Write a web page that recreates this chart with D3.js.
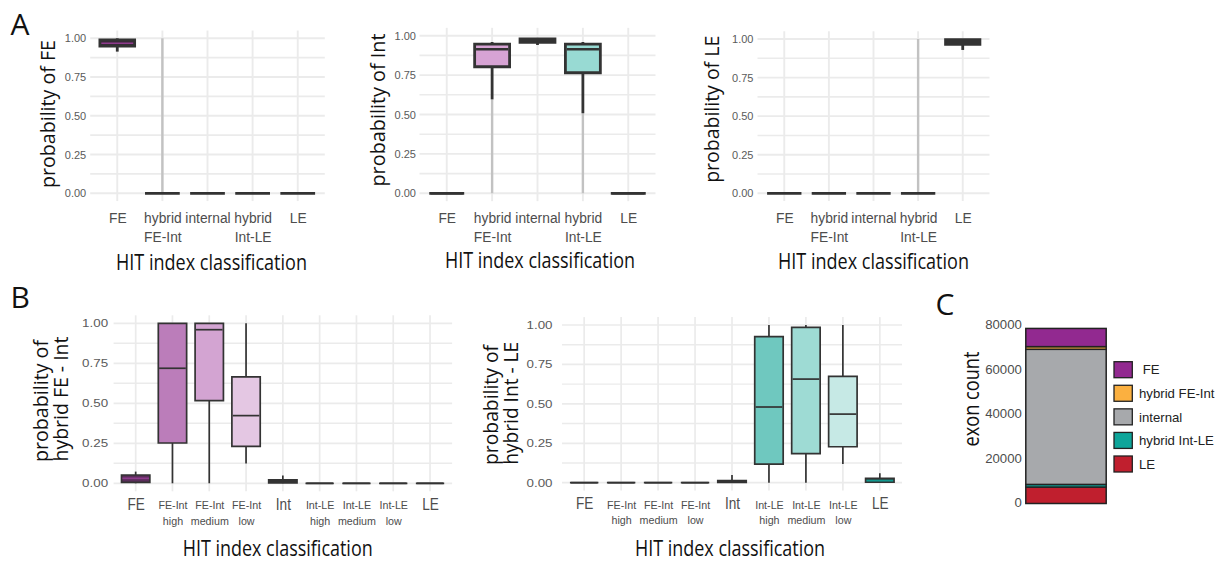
<!DOCTYPE html>
<html>
<head>
<meta charset="utf-8">
<script src="https://cdn.jsdelivr.net/npm/d3@7"></script>
<style>
  body { margin: 0; background: #fff; }
  svg { display: block; }
</style>
</head>
<body>
<svg id="fig" width="1217" height="561"></svg>
<script>
// ---------------- data ----------------
// HIT index classes used in panel A
const classesA = ["FE", "hybrid FE-Int", "internal", "hybrid Int-LE", "LE"];
const tickLinesA = [["FE"], ["hybrid", "FE-Int"], ["internal"], ["hybrid", "Int-LE"], ["LE"]];

// box summaries per class: [lower whisker, Q1, median, Q3, upper whisker]
const probFE = [
  [0.914, 0.95, 0.968, 0.99, 1.0],
  [0, 0, 0, 0, 0],
  [0, 0, 0, 0, 0],
  [0, 0, 0, 0, 0],
  [0, 0, 0, 0, 0]
];
// range covered by the outlier points of each class ([min, max] or null)
const outliersFE = [null, [0, 1], null, null, null];

const probInt = [
  [0, 0, 0, 0, 0],
  [0.596, 0.803, 0.914, 0.947, 0.96],
  [0.941, 0.958, 0.97, 0.979, 0.982],
  [0.508, 0.765, 0.914, 0.947, 0.96],
  [0, 0, 0, 0, 0]
];
const outliersInt = [null, [0, 0.596], null, [0, 0.508], null];

const probLE = [
  [0, 0, 0, 0, 0],
  [0, 0, 0, 0, 0],
  [0, 0, 0, 0, 0],
  [0, 0, 0, 0, 0],
  [0.929, 0.966, 0.98, 0.995, 1.0]
];
const outliersLE = [null, null, null, [0, 1], null];

// finer classes used in panel B
const classesB = ["FE", "FE-Int high", "FE-Int medium", "FE-Int low", "Int",
                  "Int-LE high", "Int-LE medium", "Int-LE low", "LE"];
const tickLinesB = [["FE"], ["FE-Int", "high"], ["FE-Int", "medium"], ["FE-Int", "low"], ["Int"],
                    ["Int-LE", "high"], ["Int-LE", "medium"], ["Int-LE", "low"], ["LE"]];

const probHybridFEInt = [
  [0, 0.006, 0.031, 0.052, 0.073],
  [0, 0.252, 0.719, 1.0, 1.0],
  [0, 0.517, 0.96, 1.0, 1.0],
  [0.123, 0.231, 0.423, 0.665, 1.0],
  [0, 0.002, 0.01, 0.021, 0.048],
  [0, 0, 0, 0, 0],
  [0, 0, 0, 0, 0],
  [0, 0, 0, 0, 0],
  [0, 0, 0, 0, 0]
];

const probHybridIntLE = [
  [0, 0, 0, 0, 0],
  [0, 0, 0, 0, 0],
  [0, 0, 0, 0, 0],
  [0, 0, 0, 0, 0],
  [0, 0.002, 0.008, 0.013, 0.049],
  [0, 0.118, 0.48, 0.926, 1.0],
  [0, 0.184, 0.657, 0.985, 1.0],
  [0.118, 0.228, 0.435, 0.674, 1.0],
  [0, 0.003, 0.013, 0.028, 0.06]
];

const probTicks = [0, 0.25, 0.5, 0.75, 1];
const probMinorTicks = [0.125, 0.375, 0.625, 0.875];

// panel C: exon counts per class (stacked bottom to top)
const exonClasses = ["LE", "hybrid Int-LE", "internal", "hybrid FE-Int", "FE"];
const exonCounts = [7400, 1200, 60900, 1200, 8200];
const legendOrder = ["FE", "hybrid FE-Int", "internal", "hybrid Int-LE", "LE"];
const legendLabels = [" FE", "hybrid FE-Int", "internal", "hybrid Int-LE", "LE"];
const countTicks = [0, 20000, 40000, 60000, 80000];

// ---------------- styles ----------------
const classColor = {
  "FE": "#922990",
  "hybrid FE-Int": "#fbb040",
  "internal": "#a7a9ac",
  "hybrid Int-LE": "#0ea59a",
  "LE": "#c01f2e"
};
const INK = "#333333";
const GRID = "#ebebeb";
const TICK = "#4d4d4d";
const SANS = "'Liberation Sans', Arial, sans-serif";
const TITLE = "'Open Sans', 'Noto Sans', sans-serif";

const svg = d3.select("#fig");

// squeeze a text node horizontally to mimic a condensed face
function condense(sel, ratio) {
  sel.each(function () {
    const w = this.getComputedTextLength();
    d3.select(this).attr("textLength", w * ratio).attr("lengthAdjust", "spacingAndGlyphs");
  });
}

// ---------------- box-plot panel ----------------
function boxPanel(cfg) {
  const g = svg.append("g");
  const x = d3.scalePoint().domain(cfg.classes).range([cfg.left, cfg.right]).padding(0.6);
  const y = d3.scaleLinear().domain([0, 1]).range([cfg.y0, cfg.y1]);
  const top = y(1.05), bottom = y(-0.05);
  const bw = x.step() * cfg.boxWidth;

  // grid
  g.selectAll("line.minor").data(probMinorTicks).join("line")
    .attr("x1", cfg.left).attr("x2", cfg.right)
    .attr("y1", d => y(d)).attr("y2", d => y(d))
    .attr("stroke", GRID).attr("stroke-width", cfg.gridW * 0.85);
  g.selectAll("line.major").data(probTicks).join("line")
    .attr("x1", cfg.left).attr("x2", cfg.right)
    .attr("y1", d => y(d)).attr("y2", d => y(d))
    .attr("stroke", GRID).attr("stroke-width", cfg.gridW);
  g.selectAll("line.vgrid").data(cfg.classes).join("line")
    .attr("x1", d => x(d)).attr("x2", d => x(d))
    .attr("y1", top).attr("y2", bottom)
    .attr("stroke", GRID).attr("stroke-width", cfg.gridW);

  // outlier streaks (densely stacked points)
  const outs = cfg.classes.map((c, i) => ({ c, r: cfg.outliers ? cfg.outliers[i] : null })).filter(d => d.r);
  g.selectAll("line.out").data(outs).join("line")
    .attr("x1", d => x(d.c)).attr("x2", d => x(d.c))
    .attr("y1", d => y(d.r[0])).attr("y2", d => y(d.r[1]))
    .attr("stroke", "#c2c2c2").attr("stroke-width", cfg.outW);

  const rows = cfg.classes.map((c, i) => ({ c, i, s: cfg.stats[i] }));

  // whiskers
  g.selectAll("line.wlo").data(rows).join("line")
    .attr("x1", d => x(d.c)).attr("x2", d => x(d.c))
    .attr("y1", d => y(d.s[0])).attr("y2", d => y(d.s[1]))
    .attr("stroke", INK).attr("stroke-width", cfg.strokeW);
  g.selectAll("line.whi").data(rows).join("line")
    .attr("x1", d => x(d.c)).attr("x2", d => x(d.c))
    .attr("y1", d => y(d.s[3])).attr("y2", d => y(d.s[4]))
    .attr("stroke", INK).attr("stroke-width", cfg.strokeW);

  // boxes (paths so that zero-height boxes still show their outline)
  g.selectAll("path.box").data(rows).join("path")
    .attr("d", d => {
      const x0 = x(d.c) - bw / 2, x1 = x(d.c) + bw / 2;
      return `M${x0},${y(d.s[3])}H${x1}V${y(d.s[1])}H${x0}Z`;
    })
    .attr("fill", d => cfg.fills[d.i])
    .attr("stroke", INK).attr("stroke-width", cfg.strokeW)
    .attr("stroke-linejoin", "miter");

  // medians
  g.selectAll("line.med").data(rows).join("line")
    .attr("x1", d => x(d.c) - bw / 2 + cfg.strokeW / 2).attr("x2", d => x(d.c) + bw / 2 - cfg.strokeW / 2)
    .attr("y1", d => y(d.s[2])).attr("y2", d => y(d.s[2]))
    .attr("stroke", d => cfg.medianColors[d.i]).attr("stroke-width", cfg.medW);

  // y axis labels
  const ya = g.append("g").attr("transform", `translate(${cfg.left},0)`)
    .call(d3.axisLeft(y).tickValues(probTicks).tickFormat(d3.format(".2f")).tickSize(0).tickPadding(cfg.yPad));
  ya.select(".domain").remove();
  ya.selectAll("text").attr("font-family", SANS).attr("font-size", cfg.yFont)
    .attr("fill", "#5a5a5a").attr("dy", "0.32em");
  if (cfg.yStretch) ya.selectAll("text").attr("textLength", cfg.yStretch).attr("lengthAdjust", "spacingAndGlyphs");

  // x axis labels (multi-line)
  const xa = g.append("g").attr("transform", `translate(0,${bottom})`)
    .call(d3.axisBottom(x).tickSize(0).tickFormat(""));
  xa.select(".domain").remove();
  xa.selectAll(".tick").each(function (d, i) {
    const lines = cfg.tickLines[i];
    const big = lines.length === 1 && cfg.bigFont;
    const t = d3.select(this).select("text")
      .attr("font-family", SANS).attr("fill", TICK)
      .attr("font-size", big ? cfg.bigFont : cfg.xFont)
      .attr("y", 0).attr("dy", null);
    const sp = t.selectAll("tspan").data(lines).join("tspan")
      .attr("x", 0)
      .attr("y", (l, k) => (big ? cfg.bigBase : cfg.xBase) + k * cfg.xLine)
      .text(l => l);
    condense(sp, big ? cfg.bigSqueeze : cfg.xSqueeze);
  });

  // axis titles
  g.append("text")
    .attr("x", cfg.xTitle[0]).attr("y", cfg.xTitle[1])
    .attr("text-anchor", "middle").attr("font-family", TITLE).attr("font-size", 21)
    .attr("textLength", cfg.xTitle[2]).attr("lengthAdjust", "spacingAndGlyphs")
    .attr("fill", "#111").text("HIT index classification");
  cfg.yTitle.forEach(t => {
    g.append("text")
      .attr("transform", `translate(${t.x},${t.cy}) rotate(-90)`)
      .attr("text-anchor", "middle").attr("font-family", TITLE).attr("font-size", 20)
      .attr("textLength", t.len).attr("lengthAdjust", "spacingAndGlyphs")
      .attr("fill", "#111").text(t.text);
  });
}

// fills / median colours per class
const noFill = "#ffffff";
const purpleMed = "#8e3b8c", tealMed = "#12998f";

boxPanel({
  classes: classesA, tickLines: tickLinesA, stats: probFE, outliers: outliersFE,
  fills: ["#3a2a3a", noFill, noFill, noFill, noFill],
  medianColors: [purpleMed, INK, INK, INK, INK],
  left: 90.2, right: 324.8, y0: 193.3, y1: 38.3, boxWidth: 0.77,
  strokeW: 2.8, medW: 1.6, gridW: 1.9, outW: 2.4,
  yPad: 4, yFont: 11, xFont: 15.5, xBase: 21.5, xLine: 19.5, xSqueeze: 0.89,
  xTitle: [211.5, 270, 191],
  yTitle: [{ text: "probability of FE", x: 55, cy: 114, len: 148 }]
});

boxPanel({
  classes: classesA, tickLines: tickLinesA, stats: probInt, outliers: outliersInt,
  fills: [noFill, "#d7a3d4", "#3a3a3a", "#98dad3", noFill],
  medianColors: [INK, INK, INK, INK, INK],
  left: 419.5, right: 655.5, y0: 193.3, y1: 35.7, boxWidth: 0.77,
  strokeW: 2.8, medW: 2.4, gridW: 1.9, outW: 2.4,
  yPad: 3.5, yFont: 11, xFont: 15.5, xBase: 21.5, xLine: 19.5, xSqueeze: 0.89,
  xTitle: [540, 268, 190],
  yTitle: [{ text: "probability of Int", x: 385, cy: 110, len: 153 }]
});

boxPanel({
  classes: classesA, tickLines: tickLinesA, stats: probLE, outliers: outliersLE,
  fills: [noFill, noFill, noFill, noFill, "#3a3a3a"],
  medianColors: [INK, INK, INK, INK, INK],
  left: 757.5, right: 989.5, y0: 193.3, y1: 39, boxWidth: 0.77,
  strokeW: 2.8, medW: 1.6, gridW: 1.9, outW: 2.4,
  yPad: 4, yFont: 11, xFont: 15.5, xBase: 21.5, xLine: 19.5, xSqueeze: 0.89,
  xTitle: [873.5, 269, 191],
  yTitle: [{ text: "probability of LE", x: 719, cy: 109.3, len: 147 }]
});

boxPanel({
  classes: classesB, tickLines: tickLinesB, stats: probHybridFEInt, outliers: null,
  fills: ["#5a2d5a", "#bb7dba", "#d3a4d2", "#e4c7e3", "#3a3a3a", noFill, noFill, noFill, noFill],
  medianColors: [purpleMed, INK, INK, INK, INK, INK, INK, INK, INK],
  left: 113.6, right: 452.1, y0: 483.3, y1: 323.3, boxWidth: 0.77,
  strokeW: 1.7, medW: 1.7, gridW: 1.7, outW: 2,
  yPad: 5.5, yFont: 11, yStretch: 26, xFont: 11.5, xBase: 18, xLine: 15.3, xSqueeze: 0.93,
  bigFont: 16, bigBase: 18.8, bigSqueeze: 0.85,
  xTitle: [277.7, 556, 190],
  yTitle: [{ text: "probability of", x: 48, cy: 401, len: 122 },
           { text: "hybrid FE - Int", x: 68, cy: 399, len: 125 }]
});

boxPanel({
  classes: classesB, tickLines: tickLinesB, stats: probHybridIntLE, outliers: null,
  fills: [noFill, noFill, noFill, noFill, "#3a3a3a", "#6fc8bf", "#9edbd4", "#c6e9e5", "#2b4d4a"],
  medianColors: [INK, INK, INK, INK, INK, INK, INK, INK, tealMed],
  left: 562, right: 902, y0: 482.7, y1: 325, boxWidth: 0.77,
  strokeW: 1.7, medW: 1.7, gridW: 1.7, outW: 2,
  yPad: 9.5, yFont: 11, yStretch: 26, xFont: 11.5, xBase: 18, xLine: 15.3, xSqueeze: 0.93,
  bigFont: 16, bigBase: 18.8, bigSqueeze: 0.85,
  xTitle: [730, 556, 190],
  yTitle: [{ text: "probability of", x: 498, cy: 405, len: 120 },
           { text: "hybrid Int - LE", x: 518, cy: 403.3, len: 123 }]
});

// ---------------- panel C: stacked exon counts ----------------
(function () {
  const g = svg.append("g");
  const y = d3.scaleLinear().domain([0, 80000]).range([503.5, 326]);
  const barX0 = 1025.8, barX1 = 1106.2;
  const stacked = d3.stack().keys(exonClasses)([Object.fromEntries(exonClasses.map((k, i) => [k, exonCounts[i]]))]);
  g.selectAll("rect.seg").data(stacked).join("rect")
    .attr("x", barX0).attr("width", barX1 - barX0)
    .attr("y", d => y(d[0][1])).attr("height", d => y(d[0][0]) - y(d[0][1]))
    .attr("fill", d => classColor[d.key])
    .attr("stroke", "#222").attr("stroke-width", 1.5);

  const ya = g.append("g").attr("transform", `translate(${barX0 - 3},0)`)
    .call(d3.axisLeft(y).tickValues(countTicks).tickFormat(d3.format("d")).tickSize(0).tickPadding(1));
  ya.select(".domain").remove();
  ya.selectAll("text").attr("font-family", SANS).attr("font-size", 13.2)
    .attr("fill", TICK).attr("dy", "0.22em");

  g.append("text")
    .attr("transform", "translate(979,399) rotate(-90)")
    .attr("text-anchor", "middle").attr("font-family", TITLE).attr("font-size", 21)
    .attr("textLength", 95).attr("lengthAdjust", "spacingAndGlyphs")
    .attr("fill", "#111").text("exon count");

  // legend
  const ly = d3.scalePoint().domain(legendOrder).range([361.7, 456]);
  const lg = g.selectAll("g.key").data(legendOrder).join("g")
    .attr("transform", d => `translate(1114,${ly(d)})`);
  lg.append("rect").attr("width", 18.3).attr("height", 16)
    .attr("fill", d => classColor[d]).attr("stroke", "#222").attr("stroke-width", 1.3);
  lg.append("text").attr("x", 25).attr("y", 12.8)
    .attr("font-family", SANS).attr("font-size", 13.2).attr("fill", "#222")
    .attr("xml:space", "preserve").style("white-space", "pre")
    .text((d, i) => legendLabels[i]);
})();

// ---------------- panel letters ----------------
[["A", 10.5, 35], ["B", 10.5, 308], ["C", 935.5, 315]].forEach(([t, px, py]) => {
  svg.append("text").attr("x", px).attr("y", py)
    .attr("font-family", TITLE).attr("font-size", 30).attr("fill", "#111").text(t);
});
</script>
</body>
</html>
